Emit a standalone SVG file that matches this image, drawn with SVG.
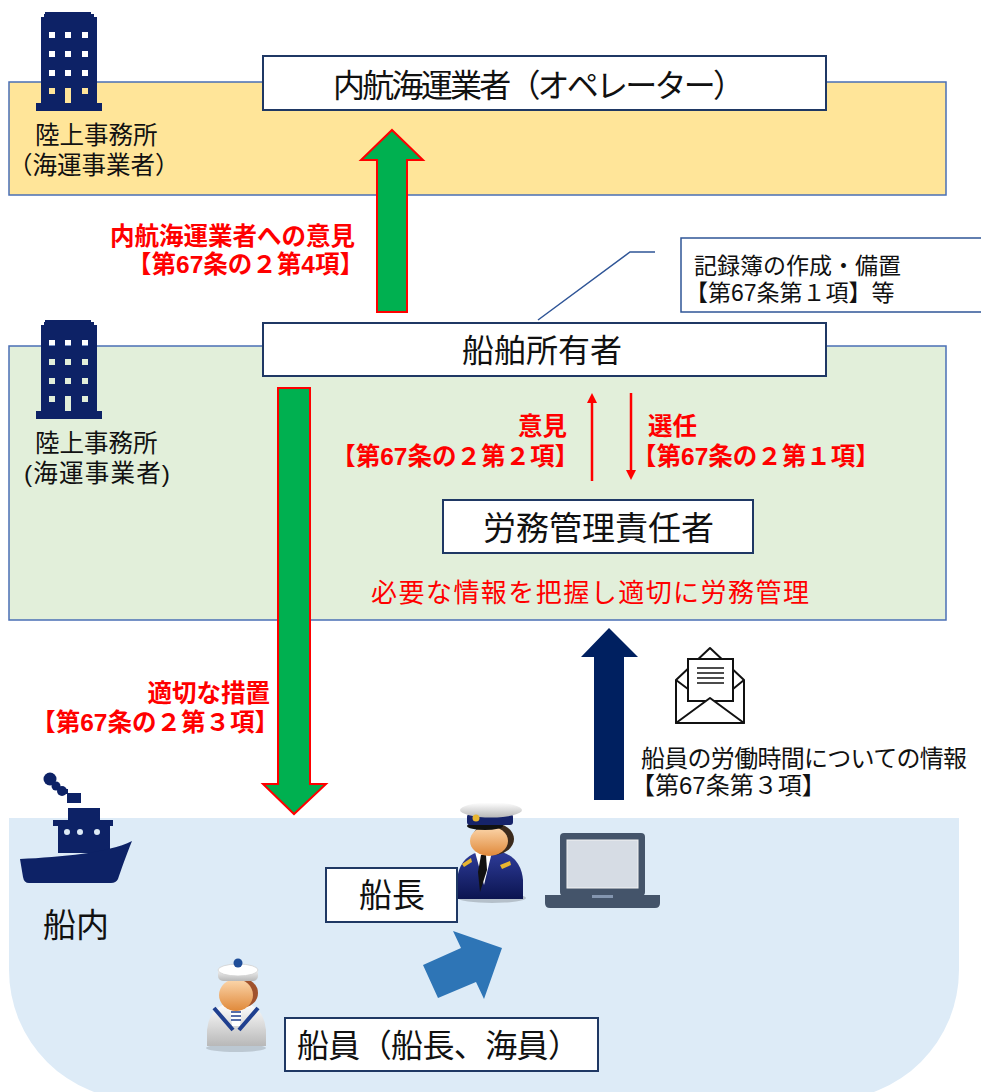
<svg xmlns="http://www.w3.org/2000/svg" width="981" height="1092" viewBox="0 0 981 1092">
<defs>
<style>
.t{font-family:"Liberation Sans","Noto Sans CJK JP",sans-serif;fill:#111}
.r{font-family:"Liberation Sans","Noto Sans CJK JP",sans-serif;fill:#FF0000}
.b{font-weight:bold}
.box{fill:#fff;stroke:#1F3864;stroke-width:2}
.band{stroke:#4A6FB5;stroke-width:1.5}
.green{fill:#00B050;stroke:#FF0000;stroke-width:2}
.navy{fill:#0D2266}
.thin{stroke:#FF0000;stroke-width:2.5;fill:none}
.ink{fill:none;stroke:#111;stroke-width:2;stroke-linejoin:round}
</style>
<marker id="redHead" viewBox="0 0 10 10" refX="2" refY="5" markerWidth="4" markerHeight="4" orient="auto"><path d="M0,0 L10,5 L0,10 Z" fill="#FF0000"/></marker>
<linearGradient id="skin" x1="0" y1="0" x2="0" y2="1"><stop offset="0" stop-color="#FCD8AE"/><stop offset="1" stop-color="#E0893A"/></linearGradient>
<linearGradient id="jacket" x1="0" y1="0" x2="0" y2="1"><stop offset="0" stop-color="#2E3C99"/><stop offset="1" stop-color="#0B1450"/></linearGradient>
<linearGradient id="whiteCloth" x1="0" y1="0" x2="0" y2="1"><stop offset="0" stop-color="#FFFFFF"/><stop offset="1" stop-color="#B8B8B8"/></linearGradient>
<!-- office building silhouette with window cut-outs -->
<path id="building" fill-rule="evenodd" d="M45,12 H91 V14 H94 V17 H97 V103 H102 V111 H36 V103 H41 V17 H44 V14 H45 Z
 M49,32 h6 v6 h-6 Z M65,32 h6 v6 h-6 Z M82,32 h6 v6 h-6 Z
 M49,51 h6 v6 h-6 Z M65,51 h6 v6 h-6 Z M82,51 h6 v6 h-6 Z
 M49,70 h6 v6 h-6 Z M65,70 h6 v6 h-6 Z M82,70 h6 v6 h-6 Z
 M49,88 h6 v6 h-6 Z M65,88 h6 v15 h-6 Z M82,88 h6 v6 h-6 Z"/>
</defs>

<rect width="981" height="1092" fill="#fff"/>

<!-- background zones -->
<rect x="9" y="82" width="937" height="113" fill="#FFE599" class="band"/>
<rect x="9" y="346" width="937" height="274" fill="#E2EFDA" class="band"/>
<path d="M9,818 H959 V970 A130,130 0 0 1 829,1100 H139 A130,130 0 0 1 9,970 Z" fill="#DDEBF7"/>

<!-- land offices -->
<g id="office-top">
  <use href="#building" class="navy"/>
  <text class="t" font-size="24.5"><tspan x="35" y="144">陸上事務所</tspan><tspan x="8" y="174">（海運事業者）</tspan></text>
</g>
<g id="office-owner">
  <use href="#building" class="navy" transform="translate(0,308)"/>
  <text class="t" font-size="24.5"><tspan x="35" y="452">陸上事務所</tspan><tspan x="24" y="482" textLength="146" lengthAdjust="spacing">(海運事業者)</tspan></text>
</g>

<!-- ship -->
<g id="ship" class="navy">
  <circle cx="50" cy="779" r="6.5"/>
  <circle cx="56" cy="786" r="4.5"/>
  <circle cx="62" cy="791" r="5"/>
  <rect x="62" y="789" width="6" height="5"/>
  <rect x="67" y="793" width="14" height="10"/>
  <rect x="68" y="808" width="32" height="13"/>
  <rect x="53" y="820" width="60" height="6"/>
  <path fill-rule="evenodd" d="M58,826 H110 V853 H58 Z M64,832 a3,3 0 1,0 6,0 a3,3 0 1,0 -6,0 Z M77,832 a3,3 0 1,0 6,0 a3,3 0 1,0 -6,0 Z M94,832 a3,3 0 1,0 6,0 a3,3 0 1,0 -6,0 Z"/>
  <path d="M20,859 C62,857 108,853 132,841 C126,856 121,870 118,879 Q116,883 111,883 L29,883 Q24,883 23,877 Z"/>
  <text class="t" x="43" y="937" font-size="33">船内</text>
</g>

<!-- connectors -->
<g id="connectors">
  <polygon class="green" points="392,130 423,160 407,160 407,312 377,312 377,160 361,160"/>
  <polygon class="green" points="278,388 310,388 310,784 326,784 294,814 263,784 278,784"/>
  <polygon fill="#002060" points="609,628 638,657 624,657 624,800 594,800 594,657 581,657"/>
  <line class="thin" x1="592" y1="481" x2="592" y2="401" marker-end="url(#redHead)"/>
  <line class="thin" x1="631" y1="393" x2="631" y2="472" marker-end="url(#redHead)"/>
  <polygon fill="#2E75B6" points="423,965 461,948 453,931 502,948 484,999 476,982 438,998"/>
  <polyline points="538,320 630,252 655,252" fill="none" stroke="#2F5597" stroke-width="1.5"/>
</g>

<!-- operator -->
<g id="operator">
  <rect class="box" x="263" y="56" width="563" height="54"/>
  <text class="t" x="333" y="97" font-size="32" textLength="412" lengthAdjust="spacing">内航海運業者（オペレーター）</text>
</g>

<!-- ship owner -->
<g id="owner">
  <rect class="box" x="263" y="323" width="563" height="53"/>
  <text class="t" x="462" y="362" font-size="32">船舶所有者</text>
</g>

<!-- callout: record book -->
<g id="record-note">
  <rect x="681" y="238" width="320" height="74" fill="#fff" stroke="#2F5597" stroke-width="1.5"/>
  <text class="t" font-size="23"><tspan x="694" y="274">記録簿の作成・備置</tspan><tspan x="685" y="301">【第67条第１項】等</tspan></text>
</g>

<!-- labour manager -->
<g id="labour-manager">
  <rect class="box" x="443" y="500" width="310" height="53"/>
  <text class="t" x="483" y="540" font-size="33">労務管理責任者</text>
  <text class="r" x="590" y="602" font-size="26" text-anchor="middle" textLength="438" lengthAdjust="spacing">必要な情報を把握し適切に労務管理</text>
</g>

<!-- red legal labels -->
<g id="labels">
  <text class="r b" font-size="24.5" text-anchor="end"><tspan x="355" y="245">内航海運業者への意見</tspan><tspan x="364" y="273">【第67条の２第4項】</tspan></text>
  <text class="r b" font-size="24.5" text-anchor="end"><tspan x="567" y="435">意見</tspan><tspan x="579" y="465">【第67条の２第２項】</tspan></text>
  <text class="r b" font-size="24.5"><tspan x="648" y="435">選任</tspan><tspan x="632" y="465">【第67条の２第１項】</tspan></text>
  <text class="r b" font-size="24.5" text-anchor="end"><tspan x="270" y="702">適切な措置</tspan><tspan x="279" y="731">【第67条の２第３項】</tspan></text>
</g>

<!-- working-hours report -->
<g id="report">
  <path class="ink" d="M676,680 L710,648 L744,680 V723 H676 Z" fill="#fff"/>
  <rect x="688" y="659" width="45" height="42" fill="#fff" stroke="#111" stroke-width="2"/>
  <path class="ink" d="M676,680 L688,689 M744,680 L733,689"/>
  <path d="M676,723 L710,698 L744,723 Z" fill="#fff" stroke="#111" stroke-width="2" stroke-linejoin="round"/>
  <path d="M697,668 H724 M697,673 H724 M697,678 H724 M697,683 H724" stroke="#111" stroke-width="1.6"/>
  <text class="t" font-size="24"><tspan x="641" y="767" textLength="326" lengthAdjust="spacing">船員の労働時間についての情報</tspan><tspan x="631" y="794">【第67条第３項】</tspan></text>
</g>

<!-- laptop -->
<g id="laptop">
  <rect x="560" y="833" width="85" height="63" rx="4" fill="#44546A"/>
  <rect x="567" y="840" width="71" height="48" fill="#D6DCE4" stroke="#F2F2F2" stroke-width="1"/>
  <path d="M545,895 H660 V903 Q660,908 655,908 H550 Q545,908 545,903 Z" fill="#44546A"/>
  <rect x="592" y="895" width="21" height="3" fill="#8496B0"/>
</g>

<!-- captain -->
<g id="captain">
  <ellipse cx="492" cy="898" rx="34" ry="5" fill="#000" opacity="0.18"/>
  <path d="M457,899 V880 Q459,858 478,852 H502 Q521,858 523,880 V899 Z" fill="url(#jacket)"/>
  <polygon points="475,852 492,852 484,885" fill="#fff"/>
  <polygon points="481,855 486,855 487,870 480,892 478,872" fill="#111"/>
  <polygon points="462,864 471,858 472,862 464,867" fill="#E8B530"/>
  <polygon points="500,865 510,861 511,865 502,869" fill="#E8B530"/>
  <ellipse cx="493" cy="839" rx="21" ry="16" fill="#3B2A1C"/>
  <ellipse cx="489" cy="841" rx="19" ry="15" fill="url(#skin)"/>
  <ellipse cx="485" cy="826" rx="18" ry="4" fill="#111"/>
  <rect x="467" y="814" width="46" height="11" rx="3" fill="#16236A"/>
  <ellipse cx="491" cy="810" rx="31" ry="7.5" fill="url(#whiteCloth)"/>
  <circle cx="476" cy="818" r="3.5" fill="#E8B530"/>
</g>

<!-- crew member -->
<g id="sailor">
  <ellipse cx="236" cy="1048" rx="30" ry="4" fill="#000" opacity="0.15"/>
  <path d="M207,1046 V1030 Q209,1008 228,1003 H246 Q264,1008 266,1030 V1046 Z" fill="url(#whiteCloth)"/>
  <polygon points="230,1008 242,1008 240,1026 232,1026" fill="#fff"/>
  <path d="M231,1012 H241 M231,1016 H241 M231,1020 H241" stroke="#1F3F8F" stroke-width="1.3"/>
  <path d="M214,1008 L233,1030 M258,1008 L239,1030" stroke="#1F3F8F" stroke-width="4" fill="none"/>
  <ellipse cx="241" cy="993" rx="17" ry="15" fill="#A0522D"/>
  <ellipse cx="236" cy="995" rx="17" ry="16" fill="url(#skin)"/>
  <rect x="218" y="968" width="40" height="13" rx="5" fill="url(#whiteCloth)"/>
  <ellipse cx="238" cy="970" rx="20" ry="6" fill="#fff" stroke="#D0D0D0" stroke-width="0.8"/>
  <circle cx="238" cy="963" r="4.5" fill="#1F4E99"/>
</g>

<!-- captain label -->
<g id="captain-box">
  <rect class="box" x="326" y="868" width="131" height="54"/>
  <text class="t" x="359" y="907" font-size="33">船長</text>
</g>

<!-- crew label -->
<g id="crew-box">
  <rect class="box" x="285" y="1018" width="313" height="53"/>
  <text class="t" x="297" y="1057" font-size="32" textLength="283" lengthAdjust="spacing">船員（船長、海員）</text>
</g>
</svg>
